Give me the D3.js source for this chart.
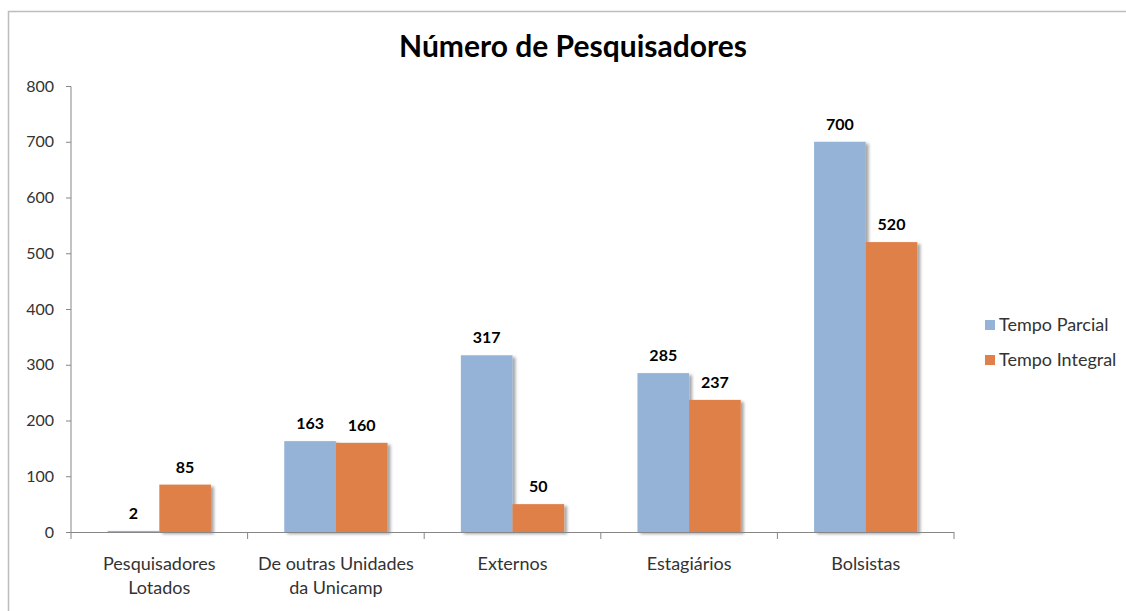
<!DOCTYPE html>
<html>
<head>
<meta charset="utf-8">
<script src="https://cdn.jsdelivr.net/npm/d3@7"></script>
<style>
  body { margin: 0; background: #fff; }
  text { font-family: Lato, "Open Sans", sans-serif; }
</style>
</head>
<body>
<svg id="chart" width="1126" height="611"></svg>
<script>
const categories = [["Pesquisadores", "Lotados"], ["De outras Unidades", "da Unicamp"], ["Externos"], ["Estagiários"], ["Bolsistas"]];
const seriesNames = ["Tempo Parcial", "Tempo Integral"];
const tempoParcial = [2, 163, 317, 285, 700];
const tempoIntegral = [85, 160, 50, 237, 520];
const yTicks = [0, 100, 200, 300, 400, 500, 600, 700, 800];
const colors = ["#95B3D7", "#E0804A"];

const svg = d3.select("#chart");

// outer frame
svg.append("rect")
  .attr("x", 8.5).attr("y", 11.5)
  .attr("width", 1130).attr("height", 620)
  .attr("fill", "#fff").attr("stroke", "#bdbdbd").attr("stroke-width", 1.5);

const defs = svg.append("defs");
const f = defs.append("filter").attr("id", "shadow")
  .attr("x", "-20%").attr("y", "-20%").attr("width", "150%").attr("height", "150%");
f.append("feDropShadow").attr("dx", 3).attr("dy", 2).attr("stdDeviation", 1.8)
  .attr("flood-color", "#000").attr("flood-opacity", 0.35);

const plot = { left: 71, right: 954, top: 86, bottom: 532 };

const x = d3.scaleBand().domain(d3.range(categories.length)).range([plot.left, plot.right]);
const inner = d3.scaleBand().domain(d3.range(seriesNames.length))
  .range([0, x.bandwidth()]).paddingOuter(0.71).paddingInner(0);
const y = d3.scaleLinear().domain([0, 800]).range([plot.bottom, plot.top]);

svg.append("text")
  .attr("x", 573).attr("y", 57)
  .attr("text-anchor", "middle")
  .attr("font-size", 30).attr("font-weight", "bold").attr("fill", "#000")
  .text("Número de Pesquisadores");

// y axis
const yAxis = svg.append("g").attr("transform", `translate(${plot.left},0)`)
  .call(d3.axisLeft(y).tickValues(yTicks).tickSize(5).tickPadding(12));
yAxis.select(".domain").attr("stroke", "#868686").attr("d", `M-5,${plot.top + 0.5}H0V${plot.bottom}`);
yAxis.selectAll(".tick line").attr("stroke", "#868686");
yAxis.selectAll(".tick text").attr("font-size", 16).attr("fill", "#333")
  .style("font-family", "Lato, sans-serif");

const series = [tempoParcial, tempoIntegral];

const bars = svg.append("g");
series.forEach((vals, s) => {
  bars.selectAll(null).data(vals).join("rect")
    .attr("x", (d, i) => x(i) + inner(s))
    .attr("y", d => y(d))
    .attr("width", inner.bandwidth())
    .attr("height", d => y(0) - y(d))
    .attr("fill", colors[s])
    .attr("filter", d => d > 5 ? "url(#shadow)" : null);
  bars.selectAll(null).data(vals).join("text")
    .attr("x", (d, i) => x(i) + inner(s) + inner.bandwidth() / 2)
    .attr("y", d => y(d) - 12)
    .attr("text-anchor", "middle")
    .attr("font-size", 16).attr("font-weight", "bold").attr("fill", "#000")
    .text(d => d);
});

// x axis
const xAxis = svg.append("g").attr("transform", `translate(0,${plot.bottom})`);
xAxis.append("path").attr("d", `M${plot.left},0.5H${plot.right}`).attr("stroke", "#868686").attr("fill", "none");
xAxis.selectAll(null).data(d3.range(categories.length + 1)).join("line")
  .attr("x1", i => plot.left + i * x.step()).attr("x2", i => plot.left + i * x.step())
  .attr("y1", 0).attr("y2", 7).attr("stroke", "#868686");
xAxis.selectAll(null).data(categories).join("text")
  .attr("text-anchor", "middle")
  .attr("font-size", 18).attr("fill", "#333")
  .attr("transform", (d, i) => `translate(${x(i) + x.bandwidth() / 2},38)`)
  .selectAll("tspan").data(d => d).join("tspan")
  .attr("x", 0).attr("dy", (d, j) => j ? 24 : 0)
  .text(d => d);

// legend
const legend = svg.append("g").attr("transform", "translate(985,320)");
seriesNames.forEach((name, s) => {
  const g = legend.append("g").attr("transform", `translate(0,${s * 35})`);
  g.append("rect").attr("width", 10).attr("height", 10).attr("fill", colors[s]);
  g.append("text").attr("x", 14).attr("y", 11)
    .attr("font-size", 18).attr("fill", "#333").text(name);
});
</script>
</body>
</html>
